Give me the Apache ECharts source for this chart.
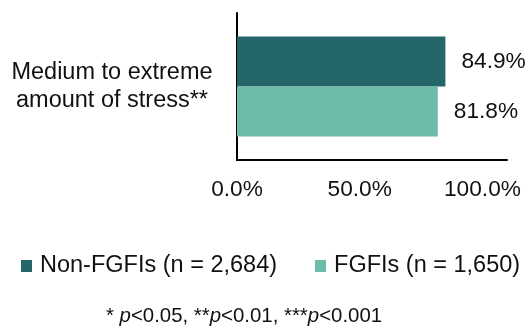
<!DOCTYPE html>
<html>
<head>
<meta charset="utf-8">
<script src="https://cdn.jsdelivr.net/npm/echarts@6/dist/echarts.min.js"></script>
<style>
  html, body { margin: 0; padding: 0; background: #fff; }
  #chart { width: 531px; height: 328px; }
</style>
</head>
<body>
<div id="chart"></div>
<script>
var categories = ['Medium to extreme\namount of stress**'];
var seriesNames = ['Non-FGFIs (n = 2,684)', 'FGFIs (n = 1,650)'];
var nonFgfi = [84.9];
var fgfi = [81.8];
var xTicks = [0, 50, 100];

var font = '"Liberation Sans", Arial, sans-serif';
var textColor = '#111';

var myChart = echarts.init(document.getElementById('chart'));
myChart.setOption({
    animation: false,
    textStyle: { fontFamily: font },
    grid: { left: 237, right: 24, top: 13, bottom: 168 },
    legend: {
        data: seriesNames,
        left: 16,
        top: 249,
        icon: 'rect',
        itemWidth: 11,
        itemHeight: 12,
        itemGap: 38,
        textStyle: { fontSize: 23.5, color: textColor, padding: [0, 0, 0, 3] }
    },
    xAxis: {
        type: 'value',
        min: 0,
        max: 110,
        interval: 50,
        splitLine: { show: false },
        axisTick: { show: false },
        axisLine: { show: true, lineStyle: { color: '#000', width: 2 } },
        axisLabel: {
            fontSize: 22.7,
            color: textColor,
            margin: 18,
            formatter: function (v) {
                return xTicks.indexOf(v) >= 0 ? v.toFixed(1) + '%' : '';
            }
        }
    },
    yAxis: {
        type: 'category',
        inverse: true,
        data: categories,
        axisTick: { show: false },
        axisLine: { show: true, lineStyle: { color: '#000', width: 2 } },
        axisLabel: {
            fontSize: 23.5,
            color: textColor,
            align: 'center',
            lineHeight: 28,
            margin: 125
        }
    },
    series: [
        {
            name: seriesNames[0],
            type: 'bar',
            data: nonFgfi,
            barWidth: 50,
            barGap: '0%',
            itemStyle: { color: '#24666a' },
            label: {
                show: true, position: 'right', distance: 16,
                fontSize: 22.7, color: textColor, formatter: '{c}%'
            }
        },
        {
            name: seriesNames[1],
            type: 'bar',
            data: fgfi,
            barWidth: 50,
            barGap: '0%',
            itemStyle: { color: '#6dbbab' },
            label: {
                show: true, position: 'right', distance: 16,
                fontSize: 22.7, color: textColor, formatter: '{c}%'
            }
        }
    ],
    graphic: [
        {
            type: 'text',
            left: 106,
            top: 306,
            style: {
                text: '* {i|p}<0.05, **{i|p}<0.01, ***{i|p}<0.001',
                fontSize: 20.4,
                fontFamily: font,
                fill: textColor,
                rich: { i: { fontStyle: 'italic', fontSize: 20.4, fontFamily: font } }
            }
        }
    ]
});
</script>
</body>
</html>
